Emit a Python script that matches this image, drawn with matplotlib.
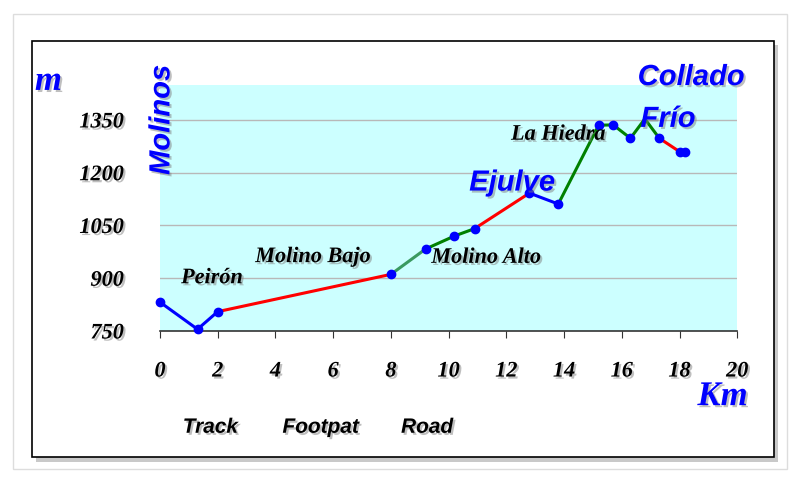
import matplotlib.pyplot as plt
import matplotlib.patheffects as pe
from matplotlib.patches import Rectangle

# distancia (km) y altitud (m) de cada punto del perfil
km = [0.0, 1.3, 2.0, 8.0, 9.2, 10.2, 10.9, 12.8, 13.8, 15.2, 15.7, 16.3, 16.8, 17.3, 18.0, 18.2]
alt = [832, 755, 805, 911, 983, 1020, 1041, 1142, 1111, 1335, 1336, 1298, 1353, 1298, 1260, 1260]
# puntos con marcador (el pico 16.8 no lleva)
marked = [0, 1, 2, 3, 4, 5, 6, 7, 8, 9, 10, 11, 13, 14, 15]

# tramos: (indice inicio, indice fin, color)
segments = [
    (0, 2, 'blue'),
    (2, 3, 'red'),
    (3, 4, '#3a9a60'),
    (4, 6, 'green'),
    (6, 7, 'red'),
    (7, 8, 'blue'),
    (8, 13, 'green'),
    (13, 15, 'red'),
]

yticks = [750, 900, 1050, 1200, 1350]
xticks = [0, 2, 4, 6, 8, 10, 12, 14, 16, 18, 20]

places = ['Peirón', 'Molino Bajo', 'Molino Alto', 'La Hiedra']
places_x = [1.8, 5.3, 11.3, 13.8]
places_y = [900, 960, 958, 1308]

towns = ['Ejulve', 'Frío', 'Collado']
towns_x = [12.2, 17.6, 18.4]
towns_y = [1172, 1353, 1472]

shadow = [pe.withSimplePatchShadow(offset=(1.5, -1.5), shadow_rgbFace='gray', alpha=0.5)]
serif = 'Liberation Serif'
sans = 'Liberation Sans'

fig = plt.figure(figsize=(7.94, 4.79), dpi=100)
fig.patch.set_facecolor('white')

# marco exterior
fig.patches.append(Rectangle((0.016, 0.02), 0.975, 0.95, transform=fig.transFigure,
                             facecolor='white', edgecolor='#dddddd', lw=1.0, zorder=-3))
fig.patches.append(Rectangle((0.040, 0.045), 0.935, 0.87, transform=fig.transFigure,
                             facecolor='white', edgecolor='black', lw=1.2, zorder=-2,
                             path_effects=[pe.withSimplePatchShadow(offset=(3, -3), alpha=0.3)]))

ax = fig.add_axes([0.2015, 0.309, 0.727, 0.514])
ax.set_facecolor('#ccffff')
ax.set_xlim(0, 20)
ax.set_ylim(750, 1450)

for y in yticks[1:]:
    ax.axhline(y, color='#b8b8b8', lw=1.0, zorder=1)

for i0, i1, c in segments:
    ax.plot(km[i0:i1 + 1], alt[i0:i1 + 1], color=c, lw=2.2, zorder=3, clip_on=False)
ax.plot([km[i] for i in marked], [alt[i] for i in marked], 'o', color='blue',
        ms=6, zorder=4, clip_on=False)

for s in ['top', 'right', 'left']:
    ax.spines[s].set_visible(False)
ax.spines['bottom'].set_color('#333333')
ax.spines['bottom'].set_linewidth(1.2)

ax.set_xticks(xticks)
ax.set_yticks(yticks)
ax.tick_params(axis='x', direction='out', length=5, pad=17, color='#333333')
ax.tick_params(axis='y', length=0, pad=26)
for lab in ax.get_xticklabels() + ax.get_yticklabels():
    lab.set_family(serif)
    lab.set_fontsize(16)
    lab.set_fontweight('bold')
    lab.set_fontstyle('italic')
    lab.set_path_effects(shadow)

for name, x, y in zip(places, places_x, places_y):
    ax.text(x, y, name, family=serif, fontsize=16, fontweight='bold', style='italic',
            ha='center', va='center', zorder=5, path_effects=shadow)

for name, x, y in zip(towns, towns_x, towns_y):
    ax.text(x, y, name, family=sans, fontsize=21, fontweight='bold', style='italic',
            color='blue', ha='center', va='center', zorder=5, clip_on=False,
            path_effects=shadow)

ax.text(0.05, 1350, 'Molinos', family=sans, fontsize=21, fontweight='bold', style='italic',
        color='blue', rotation=90, ha='center', va='center', zorder=5, clip_on=False,
        path_effects=shadow)

fig.text(0.061, 0.83, 'm', family=serif, fontsize=25, fontweight='bold', style='italic',
         color='blue', ha='center', va='center', path_effects=shadow)
fig.text(0.91, 0.172, 'Km', family=serif, fontsize=25, fontweight='bold', style='italic',
         color='blue', ha='center', va='center', path_effects=shadow)

for name, x in zip(['Track', 'Footpat', 'Road'], [0.265, 0.404, 0.538]):
    fig.text(x, 0.108, name, family=sans, fontsize=15, fontweight='bold', style='italic',
             ha='center', va='center', path_effects=shadow)

plt.savefig('out.png', dpi=100)
